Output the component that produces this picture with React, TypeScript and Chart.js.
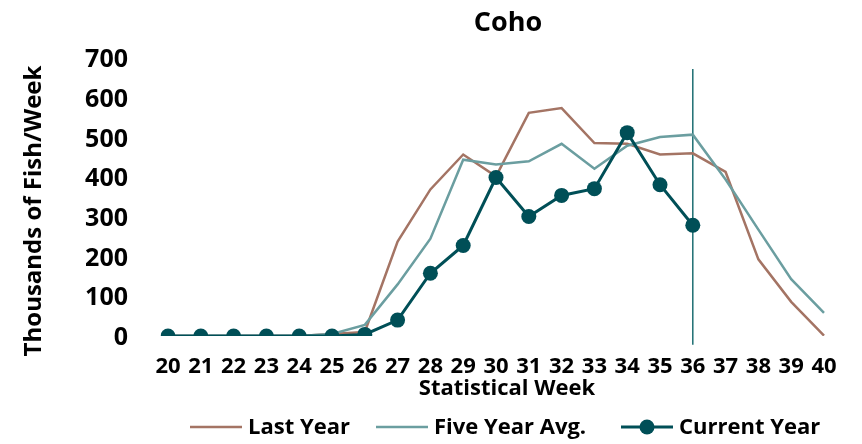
import React, { useEffect, useRef } from "react";
import { Chart, registerables } from "chart.js";

Chart.register(...registerables);

const weeks = ["20","21","22","23","24","25","26","27","28","29","30","31","32","33","34","35","36","37","38","39","40"];
const lastYear = [0, 0, 0, 0, 0, 5, 10, 238, 369, 457, 402, 562, 574, 486, 484, 457, 460, 413, 193, 86, 1];
const fiveYearAvg = [0, 0, 0, 0, 0, 5, 28, 130, 245, 444, 432, 440, 484, 421, 479, 501, 507, 394, 268, 143, 58];
const currentYear = [0, 0, 0, 0, 0, 0, 4, 40, 158, 228, 399, 301, 354, 371, 512, 381, 279, null, null, null, null];
const markerWeek = "36";
const markerRange = [-22, 672];

const COL_LAST = "#a47464";
const COL_FIVE = "#6b9ea0";
const COL_CUR = "#004f57";
const COL_MARK = "#1d6e72";
const FONT = "'Open Sans', sans-serif";

export default function App() {
  const ref = useRef<HTMLCanvasElement>(null);
  useEffect(() => {
    const canvas = ref.current!;
    const markerPlugin = {
      id: "marker",
      beforeDatasetsDraw(chart: any) {
        const { ctx, scales } = chart;
        const x = scales.x.getPixelForValue(weeks.indexOf(markerWeek));
        ctx.save();
        ctx.strokeStyle = COL_MARK;
        ctx.lineWidth = 1.5;
        ctx.beginPath();
        ctx.moveTo(x, scales.y.getPixelForValue(markerRange[1]));
        ctx.lineTo(x, scales.y.getPixelForValue(markerRange[0]));
        ctx.stroke();
        ctx.restore();
      },
    };
    const textPlugin = {
      id: "texts",
      afterDraw(chart: any) {
        const { ctx } = chart;
        ctx.save();
        ctx.fillStyle = "#000";
        ctx.textBaseline = "middle";
        ctx.textAlign = "center";
        ctx.font = `bold 27px ${FONT}`;
        ctx.fillText("Coho", 508, 23);
        ctx.font = `bold 22px ${FONT}`;
        ctx.fillText("Statistical Week", 507, 389);
        ctx.save();
        ctx.translate(34, 211);
        ctx.rotate(-Math.PI / 2);
        ctx.font = `bold 24px ${FONT}`;
        ctx.fillText("Thousands of Fish/Week", 0, 0);
        ctx.restore();
        // legend
        const items = [
          { label: "Last Year", color: COL_LAST, x: 190, w: 2.5, dot: false },
          { label: "Five Year Avg.", color: COL_FIVE, x: 376, w: 2.5, dot: false },
          { label: "Current Year", color: COL_CUR, x: 621, w: 3, dot: true },
        ];
        const ly = 427;
        ctx.font = `bold 22px ${FONT}`;
        ctx.textAlign = "left";
        for (const it of items) {
          ctx.strokeStyle = it.color;
          ctx.lineWidth = it.w;
          ctx.beginPath();
          ctx.moveTo(it.x, ly);
          ctx.lineTo(it.x + 52, ly);
          ctx.stroke();
          if (it.dot) {
            ctx.fillStyle = it.color;
            ctx.beginPath();
            ctx.arc(it.x + 26, ly, 7.5, 0, Math.PI * 2);
            ctx.fill();
          }
          ctx.fillStyle = "#000";
          ctx.fillText(it.label, it.x + 58, ly + 1);
        }
        ctx.restore();
      },
    };
    const chart = new Chart(canvas, {
      type: "line",
      data: {
        labels: weeks,
        datasets: [
          {
            label: "Current Year",
            data: currentYear,
            borderColor: COL_CUR,
            backgroundColor: COL_CUR,
            borderWidth: 3,
            pointRadius: 7.5,
            pointBorderWidth: 0,
            pointBackgroundColor: COL_CUR,
            tension: 0,
            spanGaps: false,
            order: 0,
          },
          {
            label: "Five Year Avg.",
            data: fiveYearAvg,
            borderColor: COL_FIVE,
            borderWidth: 2.5,
            pointRadius: 0,
            tension: 0,
            order: 1,
          },
          {
            label: "Last Year",
            data: lastYear,
            borderColor: COL_LAST,
            borderWidth: 2.5,
            pointRadius: 0,
            tension: 0,
            order: 2,
          },
        ],
      },
      options: {
        responsive: false,
        animation: false,
        events: [],
        layout: { padding: { left: 0, right: 38, top: 58, bottom: 0 } },
        plugins: { legend: { display: false }, title: { display: false }, tooltip: { enabled: false } },
        scales: {
          x: {
            grid: { display: false, drawTicks: false },
            border: { display: false },
            ticks: {
              autoSkip: false,
              maxRotation: 0,
              minRotation: 0,
              padding: 18,
              color: "#000",
              font: { family: FONT, weight: "bold", size: 22 },
            },
            afterFit(scale: any) {
              scale.height = 108;
            },
          },
          y: {
            min: 0,
            max: 700,
            grid: { display: false, drawTicks: false },
            border: { display: false },
            ticks: {
              stepSize: 100,
              padding: 40,
              labelOffset: 2,
              color: "#000",
              font: { family: FONT, weight: "bold", size: 25 },
            },
            afterFit(scale: any) {
              scale.width = 168;
            },
          },
        },
      },
      plugins: [markerPlugin, textPlugin],
    });
    return () => chart.destroy();
  }, []);
  return (
    <div style={{ position: "absolute", left: 0, top: 0, width: 862, height: 444, background: "#fff" }}>
      <canvas ref={ref} width={862} height={444} />
    </div>
  );
}
